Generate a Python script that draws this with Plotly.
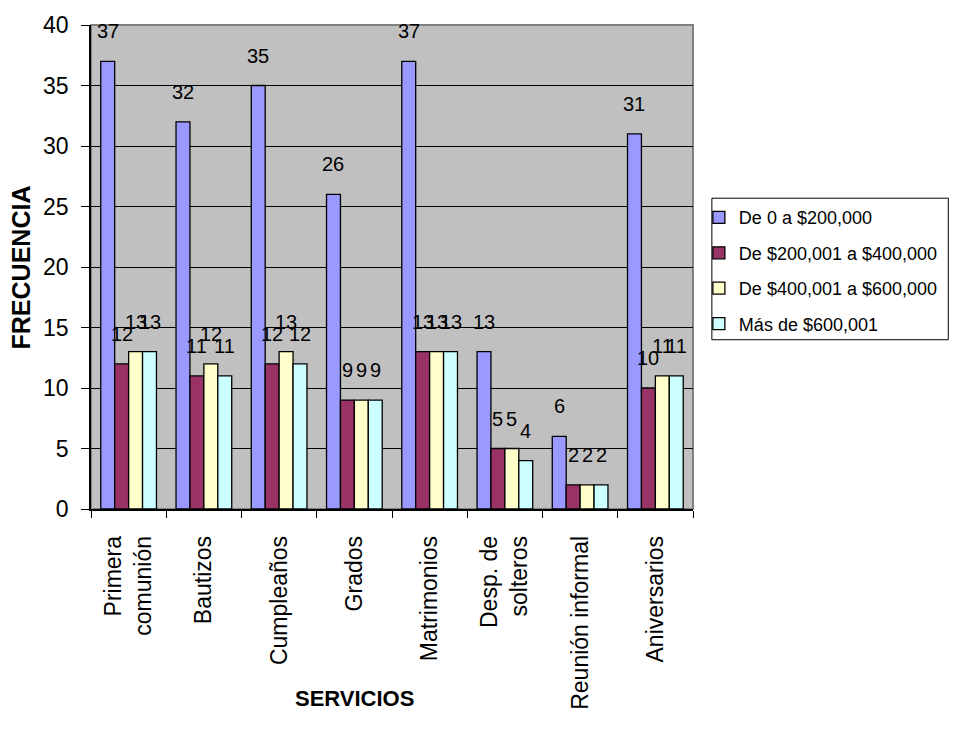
import plotly.graph_objects as go

# Services surveyed and the frequency reported for each price range
categories = [
    "Primera<br>comunión", "Bautizos", "Cumpleaños", "Grados",
    "Matrimonios", "Desp. de<br>solteros", "Reunión informal", "Aniversarios",
]
series_names = [
    "De 0 a $200,000",
    "De $200,001 a $400,000",
    "De $400,001 a $600,000",
    "Más de $600,001",
]
rango_1 = [37, 32, 35, 26, 37, 13, 6, 31]
rango_2 = [12, 11, 12, 9, 13, 5, 2, 10]
rango_3 = [13, 12, 13, 9, 13, 5, 2, 11]
rango_4 = [13, 11, 12, 9, 13, 4, 2, 11]
y_ticks = [0, 5, 10, 15, 20, 25, 30, 35, 40]

series_values = [rango_1, rango_2, rango_3, rango_4]
colors = ["#9999FF", "#993366", "#FFFFCC", "#CCFFFF"]

FONT = "Arial, 'Liberation Sans', sans-serif"
BARGAP = 0.26
W, H = 955, 740
ML, MR, MT, MB = 91, 258, 20, 231
pw = W - ML - MR
ph = H - MT - MB


def px_x(px):
    """Pixel column -> paper x."""
    return (px - ML) / pw


def px_y(py):
    """Pixel row -> paper y."""
    return (MT + ph - py) / ph


fig = go.Figure()
for idx, (name, vals, col) in enumerate(zip(series_names, series_values, colors)):
    fig.add_trace(go.Bar(
        name=name, x=categories, y=vals, legendgroup=f"rango{idx}",
        marker=dict(color=col, line=dict(color="#000000", width=1.3)),
    ))

# Value labels above each bar, centred on the bar within its group
bar_w = (1 - BARGAP) / len(series_values)
annotations = []
for k, vals in enumerate(series_values):
    off = (k - (len(series_values) - 1) / 2) * bar_w
    for i, v in enumerate(vals):
        annotations.append(dict(
            x=i + off, y=v, xref="x", yref="y", text=str(v),
            showarrow=False, yanchor="bottom", yshift=17,
            font=dict(family=FONT, size=20, color="#000000"),
        ))

annotations.append(dict(
    text="<b>FRECUENCIA</b>", textangle=-90, showarrow=False,
    xref="paper", yref="paper", x=px_x(21), y=0.5,
    xanchor="center", yanchor="middle",
    font=dict(family=FONT, size=25, color="#000000"),
))
annotations.append(dict(
    text="<b>SERVICIOS</b>", showarrow=False,
    xref="paper", yref="paper", x=px_x(356), y=px_y(700),
    xanchor="center", yanchor="middle",
    font=dict(family=FONT, size=22, color="#000000"),
))

fig.update_layout(
    width=W, height=H,
    margin=dict(l=ML, r=MR, t=MT, b=MB, pad=0),
    paper_bgcolor="#FFFFFF",
    plot_bgcolor="#C0C0C0",
    barmode="group", bargap=BARGAP, bargroupgap=0,
    font=dict(family=FONT, color="#000000"),
    showlegend=True,
    legend=dict(
        x=px_x(716), y=px_y(196),
        xanchor="left", yanchor="top",
        bgcolor="rgba(0,0,0,0)", borderwidth=0,
        font=dict(family=FONT, size=18, color="#000000"),
        tracegroupgap=9, indentation=-13,
    ),
    annotations=annotations,
    shapes=[
        # plot-area frame
        dict(type="rect", xref="paper", yref="paper", x0=0, y0=0, x1=1, y1=1,
             line=dict(color="#808080", width=2), layer="below"),
        # legend box
        dict(type="rect", xref="paper", yref="paper",
             x0=px_x(716), y0=px_y(338), x1=px_x(954), y1=px_y(195),
             line=dict(color="#000000", width=1), fillcolor="#FFFFFF",
             layer="below"),
    ],
)

fig.update_xaxes(
    type="category", tickangle=-90,
    showline=True, linecolor="#000000", linewidth=1.5,
    ticks="outside", tickson="boundaries", ticklen=7, tickcolor="#000000",
    showgrid=False,
    tickfont=dict(family=FONT, size=23, color="#000000"),
    ticklabelstandoff=16,
)
fig.update_yaxes(
    range=[0, 40], tickvals=y_ticks,
    showline=True, linecolor="#000000", linewidth=1.5,
    ticks="outside", ticklen=8, tickcolor="#000000",
    showgrid=True, gridcolor="#000000", gridwidth=1,
    zeroline=False,
    tickfont=dict(family=FONT, size=23, color="#000000"),
    ticklabelstandoff=8,
)

fig.write_html("out.html")
